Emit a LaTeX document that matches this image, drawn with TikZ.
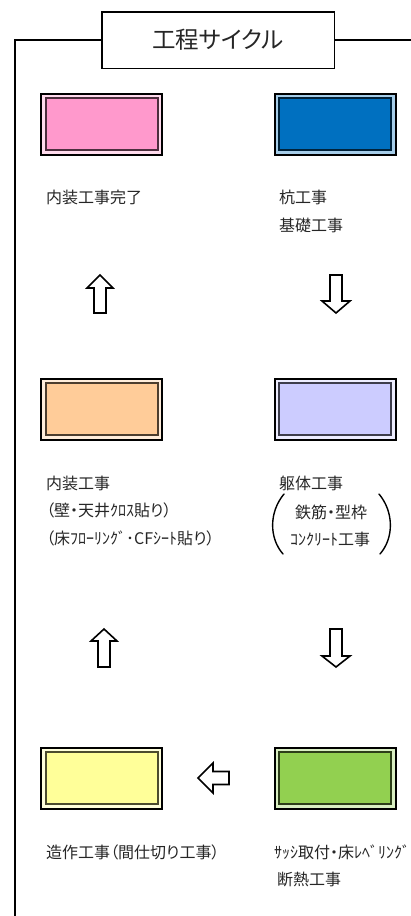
\documentclass[tikz,border=0pt]{standalone}
\usepackage{fontspec}
\setmainfont[RawFeature=+palt]{Noto Sans CJK JP}
\usepackage{xcolor}
\usepackage{tikz}
\definecolor{kanryo}{HTML}{FF99CC}
\definecolor{kui}{HTML}{0070C0}
\definecolor{naiso}{HTML}{FFCC99}
\definecolor{kutai}{HTML}{CCCCFF}
\definecolor{zosaku}{HTML}{FFFF99}
\definecolor{sash}{HTML}{92D050}
\tikzset{
    stagebox/.style={draw=black, line width=2pt, fill=#1!35!white, minimum width=121pt, minimum height=61pt, inner sep=0pt,
        path picture={\draw[line width=2pt, draw=#1!30!black, fill=#1] ([xshift=4.5pt,yshift=-4.5pt]path picture bounding box.north west) rectangle ([xshift=-4.5pt,yshift=4.5pt]path picture bounding box.south east);}},
    worktext/.style={anchor=west, inner sep=0pt, font=\fontsize{16pt}{19pt}\selectfont, text=black!85},
    bigarrow/.style={draw=black, fill=white, line width=1.6pt, line join=miter},
    paren/.style={line width=1.4pt, line cap=round}
}

\begin{document}
\begin{tikzpicture}[x=1pt, y=-1pt]
    \useasboundingbox (0,0) rectangle (410,916);
    \node[draw, line width=1.5pt, minimum width=232.5pt, minimum height=56.5pt, font=\fontsize{23.5pt}{28pt}\selectfont, text=black!85] (title) at (218,40) {工程サイクル};
    \draw[line width=1.8pt] (title.west) -- (15,40) -- (15,920);
    \draw[line width=1.8pt] (title.east) -- (415,40);

    \node[stagebox=kanryo] (kanryo) at (101.5,124) {};
    \node[stagebox=kui] (kui) at (335,124) {};
    \node[stagebox=naiso] (naiso) at (101.5,409) {};
    \node[stagebox=kutai] (kutai) at (335,409) {};
    \node[stagebox=zosaku] (zosaku) at (101.5,778) {};
    \node[stagebox=sash] (sash) at (335,778) {};

    \node[worktext] (t1) at (46,197) {内装工事完了};
    \node[worktext] (t2) at (279,197) {杭工事};
    \node[worktext] (t3) at (279,225) {基礎工事};
    \node[worktext] (t4) at (46,483) {内装工事};
    \node[worktext] (t5) at (46,510) {（壁・天井ｸﾛｽ貼り）};
    \node[worktext] (t6) at (46,538) {（床ﾌﾛｰﾘﾝｸﾞ･CFｼｰﾄ貼り）};
    \node[worktext] (t7) at (279,483) {躯体工事};
    \node[worktext, anchor=center] (t8) at (331,512) {鉄筋・型枠};
    \node[worktext, anchor=center] (t9) at (330,539) {ｺﾝｸﾘｰﾄ工事};
    \node[worktext] (t10) at (46,852) {造作工事（間仕切り工事）};
    \node[worktext] (t11) at (274,852) {ｻｯｼ取付・床ﾚﾍﾞﾘﾝｸﾞ};
    \node[worktext] (t12) at (277,879) {断熱工事};

    \draw[paren] (284,494) .. controls (269,512) and (269,538) .. (283,554);
    \draw[paren] (379,494) .. controls (394,512) and (394,538) .. (380,554);

    \draw[bigarrow] (100,275) -- (113,288) -- (106,288) -- (106,313) -- (94,313) -- (94,288) -- (87,288) -- cycle;
    \draw[bigarrow] (336,313) -- (322,301) -- (330,301) -- (330,275) -- (342,275) -- (342,301) -- (350,301) -- cycle;
    \draw[bigarrow] (104,629) -- (117,641) -- (110,641) -- (110,667) -- (98,667) -- (98,641) -- (91,641) -- cycle;
    \draw[bigarrow] (336,667) -- (322,656) -- (330,656) -- (330,629) -- (342,629) -- (342,656) -- (350,656) -- cycle;
    \draw[bigarrow] (198,778) -- (213,763) -- (213,771.5) -- (229,771.5) -- (229,784.5) -- (213,784.5) -- (213,793) -- cycle;
\end{tikzpicture}
\end{document}
